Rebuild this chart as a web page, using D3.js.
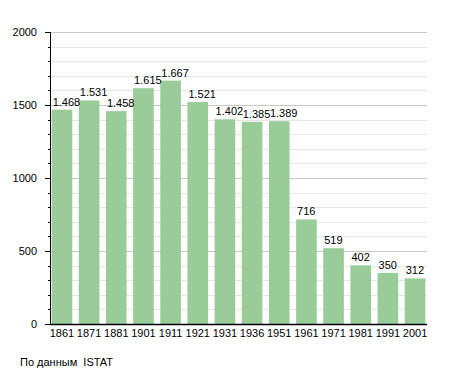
<!DOCTYPE html>
<html lang="ru">
<head>
<meta charset="UTF-8">
<title>Население</title>
<script src="https://d3js.org/d3.v7.min.js"></script>
<style>
  body { margin: 0; background: #fff; }
  text { font-family: "Liberation Sans", Arial, sans-serif; fill: #000; }
</style>
</head>
<body>
<svg width="455" height="373"></svg>
<script>
const years = ["1861", "1871", "1881", "1901", "1911", "1921", "1931", "1936", "1951", "1961", "1971", "1981", "1991", "2001"];
const population = [1468, 1531, 1458, 1615, 1667, 1521, 1402, 1385, 1389, 716, 519, 402, 350, 312];
const yTicks = [0, 500, 1000, 1500, 2000];

const margin = { top: 32, right: 28, bottom: 49, left: 50 };
const width = 455 - margin.left - margin.right;
const height = 373 - margin.top - margin.bottom;

const svg = d3.select("svg");
const g = svg.append("g").attr("transform", `translate(${margin.left},${margin.top})`);

const x = d3.scaleBand().domain(years).range([0, width]).paddingInner(0.24).paddingOuter(0.06);
const y = d3.scaleLinear().domain([0, 2000]).range([height, 0]);

// grid
g.append("g").selectAll("line")
  .data(d3.range(100, 2001, 100))
  .enter().append("line")
  .attr("x1", 0).attr("x2", width)
  .attr("y1", d => Math.round(y(d)) + 0.5).attr("y2", d => Math.round(y(d)) + 0.5)
  .attr("stroke", d => d % 500 === 0 ? "#c8c8c8" : "#e6e6e6");

// bars
g.selectAll(".bar")
  .data(population)
  .enter().append("rect")
  .attr("class", "bar")
  .attr("x", (d, i) => x(years[i]))
  .attr("y", d => y(d))
  .attr("width", x.bandwidth())
  .attr("height", d => height - y(d))
  .attr("fill", "#99cc99");

const fmt = d3.formatLocale({ decimal: ",", thousands: ".", grouping: [3], currency: ["", ""] }).format(",d");

g.selectAll(".label")
  .data(population)
  .enter().append("text")
  .attr("x", (d, i) => x(years[i]) + 1)
  .attr("y", d => y(d) - 4)
  .attr("font-size", 11)
  .text(d => fmt(d));

// left axis
const yAxis = g.append("g");
yAxis.append("line").attr("x1", 0.5).attr("x2", 0.5).attr("y1", 0).attr("y2", height).attr("stroke", "#000");
yAxis.selectAll(".tick")
  .data(d3.range(0, 2001, 100))
  .enter().append("line")
  .attr("x1", d => d % 500 === 0 ? -5 : -2).attr("x2", 0)
  .attr("y1", d => Math.round(y(d)) + 0.5).attr("y2", d => Math.round(y(d)) + 0.5)
  .attr("stroke", "#000");
yAxis.selectAll(".ylab")
  .data(yTicks)
  .enter().append("text")
  .attr("x", -13)
  .attr("y", d => y(d))
  .attr("dy", "0.35em")
  .attr("text-anchor", "end")
  .attr("font-size", 11)
  .text(d => d);

// bottom axis
g.append("line").attr("x1", 0).attr("x2", width).attr("y1", height + 0.5).attr("y2", height + 0.5)
  .attr("stroke", "#000").attr("stroke-width", 1.5);
g.selectAll(".xlab")
  .data(years)
  .enter().append("text")
  .attr("x", d => x(d) + x.bandwidth() / 2)
  .attr("y", height + 13)
  .attr("text-anchor", "middle")
  .attr("font-size", 11)
  .text(d => d);

svg.append("text")
  .attr("x", 20).attr("y", 366)
  .attr("font-size", 11)
  .attr("xml:space", "preserve")
  .text("По данным  ISTAT");
</script>
</body>
</html>
